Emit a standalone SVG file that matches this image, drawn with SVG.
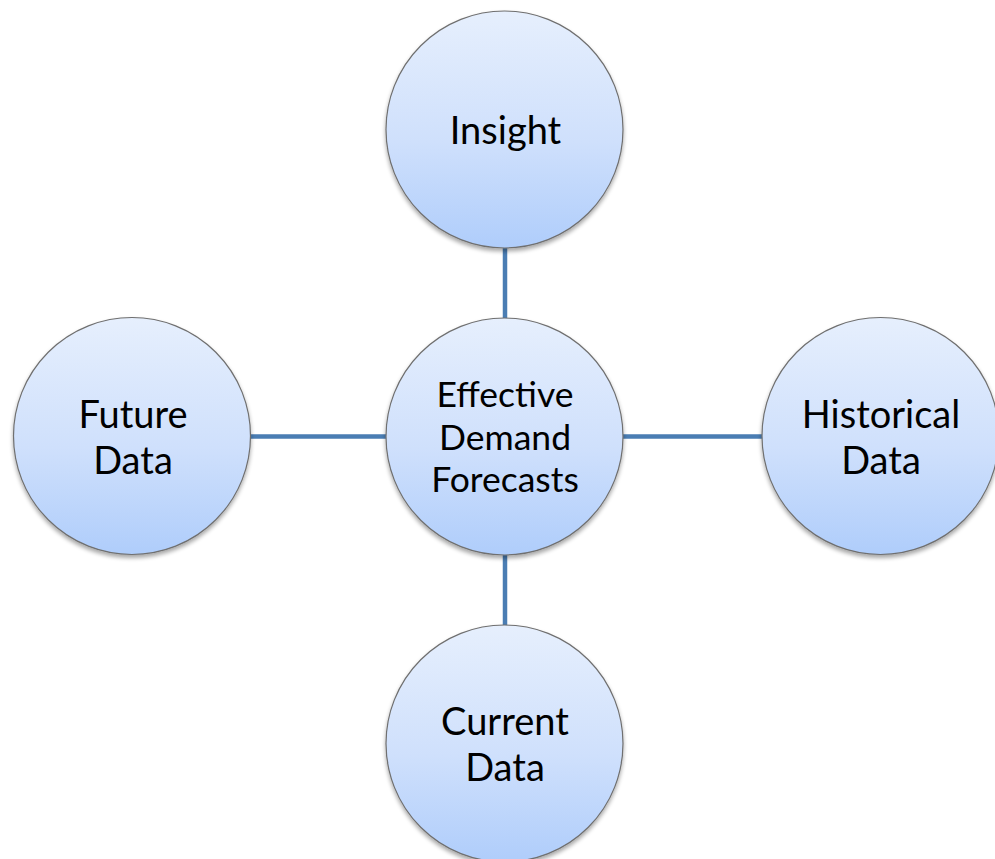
<svg xmlns="http://www.w3.org/2000/svg" width="995" height="859" viewBox="0 0 995 859">
  <defs>
    <linearGradient id="fill" x1="0" y1="0" x2="0" y2="1">
      <stop offset="0" stop-color="#e6effd"/>
      <stop offset="0.55" stop-color="#cfe0fc"/>
      <stop offset="1" stop-color="#afcdfb"/>
    </linearGradient>
    <filter id="shadow" x="-20%" y="-20%" width="140%" height="140%">
      <feGaussianBlur in="SourceAlpha" stdDeviation="2"/>
      <feOffset dx="0" dy="2.5" result="b"/>
      <feComponentTransfer><feFuncA type="linear" slope="0.35"/></feComponentTransfer>
      <feMerge><feMergeNode/><feMergeNode in="SourceGraphic"/></feMerge>
    </filter>
  </defs>
  <style>
    .node circle { fill: url(#fill); stroke: #6f6f6f; stroke-width: 1.2; filter: url(#shadow); }
    .lbl { font-family: "Lato", "Open Sans", sans-serif; font-size: 38px; fill: #000; text-anchor: middle; }
    .ctr { font-size: 35.5px; }
    .conn line { stroke: #4a7db3; stroke-width: 4.5; }
  </style>
  <rect width="995" height="859" fill="#ffffff"/>
  <g id="connectors" class="conn">
    <line x1="505" y1="246" x2="505" y2="320"/>
    <line x1="505" y1="554" x2="505" y2="627"/>
    <line x1="249" y1="436.5" x2="389" y2="436.5"/>
    <line x1="621" y1="436.5" x2="764" y2="436.5"/>
  </g>
  <g id="node-insight" class="node">
    <circle cx="504.5" cy="129.5" r="118.5"/>
    <text class="lbl" x="505.5" y="143.5">Insight</text>
  </g>
  <g id="node-center" class="node">
    <circle cx="504.5" cy="436.5" r="118.5"/>
    <text class="lbl ctr" x="505" y="407">Effective</text>
    <text class="lbl ctr" x="505" y="450">Demand</text>
    <text class="lbl ctr" x="505" y="492">Forecasts</text>
  </g>
  <g id="node-future" class="node">
    <circle cx="132" cy="436" r="118.5"/>
    <text class="lbl" x="133" y="428">Future</text>
    <text class="lbl" x="133" y="474">Data</text>
  </g>
  <g id="node-historical" class="node">
    <circle cx="880.5" cy="436" r="118.5"/>
    <text class="lbl" x="881" y="428">Historical</text>
    <text class="lbl" x="881" y="474">Data</text>
  </g>
  <g id="node-current" class="node">
    <circle cx="504.5" cy="743.5" r="118.5"/>
    <text class="lbl" x="505" y="735">Current</text>
    <text class="lbl" x="505" y="781">Data</text>
  </g>
</svg>
